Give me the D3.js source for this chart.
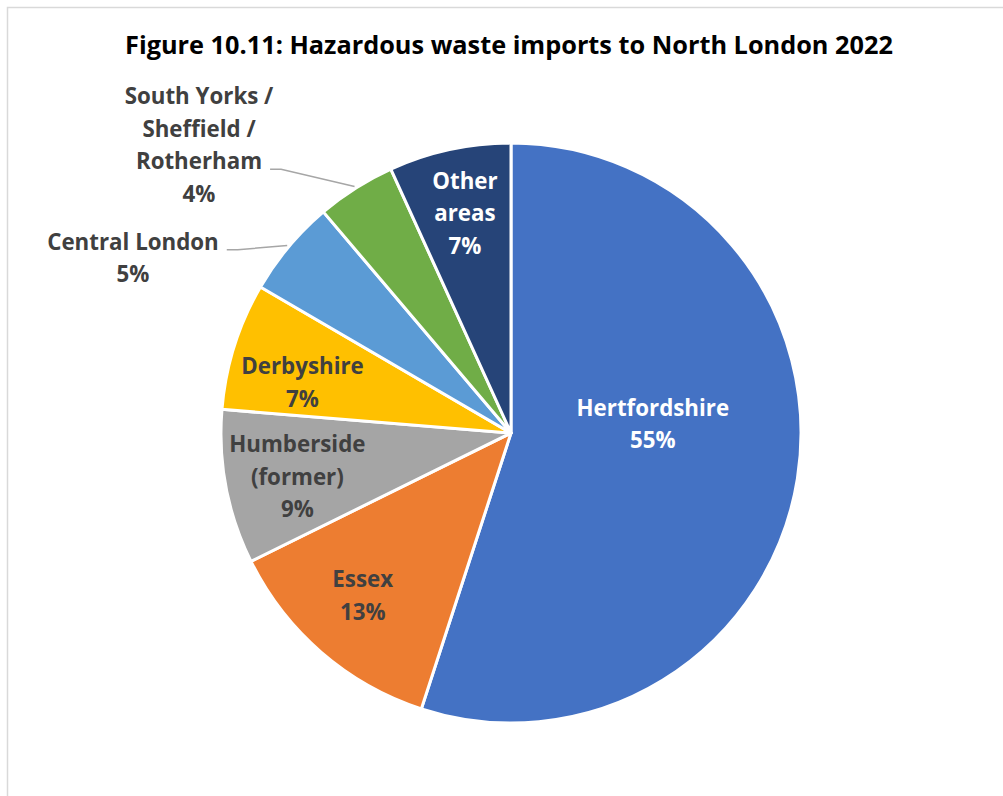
<!DOCTYPE html>
<html>
<head>
<meta charset="utf-8">
<script src="https://cdn.jsdelivr.net/npm/d3@7"></script>
<style>
  body { margin: 0; background: #fff; }
  svg { display: block; font-family: "Open Sans", Lato, sans-serif; }
  .title { font-weight: 700; fill: #000; }
  .label { font-weight: 700; }
</style>
</head>
<body>
<div id="chart"></div>
<script>
(function(){

  //data (share of tonnage, %)
  var categories = ["Hertfordshire", "Essex", "Humberside (former)", "Derbyshire",
                    "Central London", "South Yorks / Sheffield / Rotherham", "Other areas"];
  var shares = [55.0, 12.7, 8.6, 7.1, 5.4, 4.4, 6.8];
  //how each label is broken into lines
  var labelLines = [
    ["Hertfordshire"],
    ["Essex"],
    ["Humberside", "(former)"],
    ["Derbyshire"],
    ["Central London"],
    ["South Yorks /", "Sheffield /", "Rotherham"],
    ["Other", "areas"]
  ];
  var colours = ["#4472C4", "#ED7D31", "#A5A5A5", "#FFC000", "#5B9BD5", "#70AD47", "#264478"];

  //chart frame
  var width = 1003, height = 796;
  var cx = 511, cy = 433, radius = 290;
  var lineH = 32.5;

  var svg = d3.select("#chart").append("svg")
      .attr("width", width)
      .attr("height", height);

  //chart area border (only top and left show in the crop)
  svg.append("rect")
      .attr("x", 7.5).attr("y", 7.5)
      .attr("width", width + 20).attr("height", height + 20)
      .attr("fill", "#fff")
      .attr("stroke", "#d9d9d9")
      .attr("stroke-width", 1.5);

  svg.append("text")
      .attr("class", "title")
      .attr("x", 509).attr("y", 54)
      .attr("text-anchor", "middle")
      .style("font-size", "25.3px")
      .text("Figure 10.11: Hazardous waste imports to North London 2022");

  var data = categories.map(function(c, i){
    return { name: c, value: shares[i], lines: labelLines[i], colour: colours[i] };
  });

  var pie = d3.pie().sort(null).value(function(d){ return d.value; });
  var arcs = pie(data);

  var arc = d3.arc().innerRadius(0).outerRadius(radius);
  var labelArc = d3.arc().innerRadius(radius * 0.75).outerRadius(radius * 0.75);
  var edgeArc = d3.arc().innerRadius(radius + 2).outerRadius(radius + 2);

  var g = svg.append("g").attr("transform", "translate(" + cx + "," + cy + ")");

  g.selectAll(".slice")
      .data(arcs)
      .enter()
      .append("path")
      .attr("class", "slice")
      .attr("d", arc)
      .attr("fill", function(d){ return d.data.colour; })
      .attr("stroke", "#fff")
      .attr("stroke-width", 3)
      .attr("stroke-linejoin", "round");

  //label placement tweaks (Excel "best fit" style)
  var inside = {
    "Hertfordshire": [-73, -43],
    "Essex": [-6, -2],
    "Humberside (former)": [0, 3],
    "Derbyshire": [-1, 15],
    "Other areas": [0, -7]
  };
  var outside = {
    "Central London": { at: [-378, -175], attachLine: 0 },
    "South Yorks / Sheffield / Rotherham": { at: [-312, -288], attachLine: 2 }
  };

  arcs.forEach(function(d){
    var lines = d.data.lines.concat([Math.round(d.data.value) + "%"]);
    var out = outside[d.data.name];
    var pos;
    if (out) {
      pos = out.at;
    } else {
      pos = labelArc.centroid(d);
      var nudge = inside[d.data.name];
      if (nudge) { pos = [pos[0] + nudge[0], pos[1] + nudge[1]]; }
    }
    var white = (d.data.name === "Hertfordshire" || d.data.name === "Other areas");
    var top = pos[1] - (lines.length - 1) * lineH / 2;

    var t = g.append("text")
        .attr("class", "label")
        .attr("text-anchor", "middle")
        .style("font-size", "22.3px")
        .attr("fill", white ? "#fff" : "#404040");
    var spans = lines.map(function(l, i){
      return t.append("tspan")
          .attr("x", pos[0])
          .attr("y", top + i * lineH)
          .attr("dy", "0.35em")
          .text(l);
    });

    if (out) {
      var ln = spans[out.attachLine].node();
      var w = ln.getComputedTextLength();
      var sx = pos[0] + w / 2 + 8;
      var sy = top + out.attachLine * lineH + 8;
      var end = edgeArc.centroid(d);
      g.insert("path", "text")
          .attr("d", d3.line()([[sx, sy], [sx + 11, sy], end]))
          .attr("fill", "none")
          .attr("stroke", "#a6a6a6")
          .attr("stroke-width", 1.5);
    }
  });

})();
</script>
</body>
</html>
